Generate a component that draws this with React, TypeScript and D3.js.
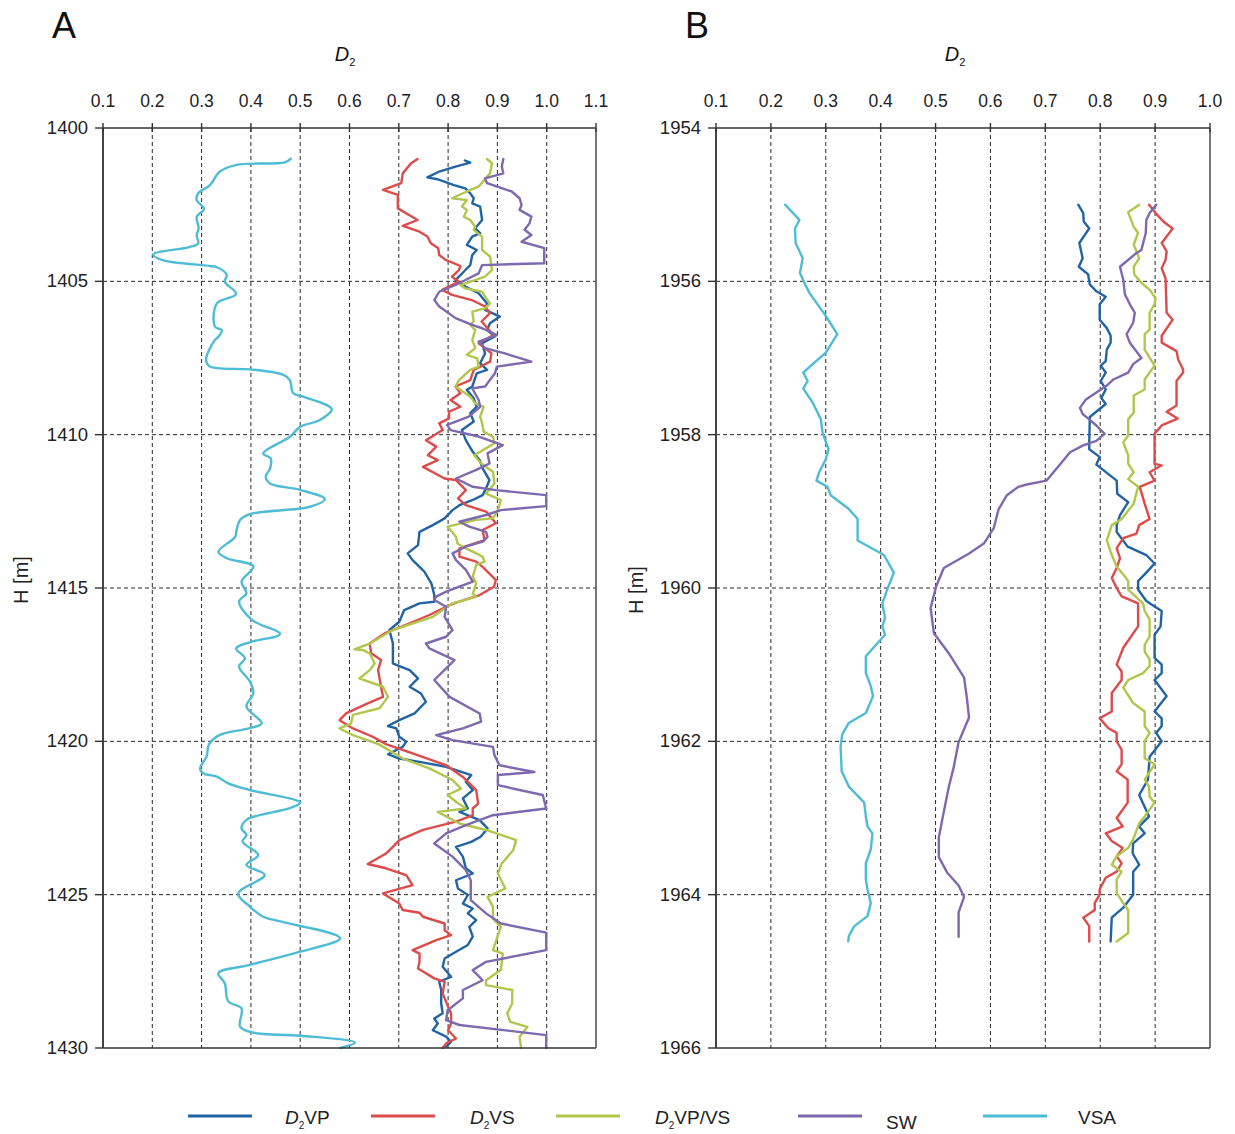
import React from "react";
import * as d3 from "d3";

type Pt = [number, number]; // [depth H (m), D2]

// ---------- Panel A: 1400–1430 m ----------
const aD2VP: Pt[] = [
  [1401.06,0.834],[1401.13,0.845],[1401.26,0.815],[1401.42,0.782],[1401.61,0.758],[1401.67,0.778],[1401.86,0.812],[1401.97,0.835],
  [1402.13,0.845],[1402.29,0.852],[1402.46,0.849],[1402.56,0.865],[1403.0,0.869],[1403.27,0.855],[1403.43,0.865],[1403.54,0.849],
  [1403.81,0.838],[1403.98,0.858],[1404.14,0.849],[1404.47,0.845],[1404.63,0.835],[1404.85,0.822],[1404.96,0.815],[1405.17,0.835],
  [1405.39,0.862],[1405.72,0.879],[1405.93,0.875],[1406.15,0.905],[1406.37,0.885],[1406.59,0.879],[1406.8,0.895],[1407.02,0.869],
  [1407.35,0.875],[1407.67,0.865],[1407.89,0.879],[1408.0,0.858],[1408.43,0.849],[1408.54,0.838],[1408.81,0.852],[1409.09,0.858],
  [1409.3,0.845],[1409.57,0.852],[1409.85,0.828],[1410.18,0.836],[1410.56,0.85],[1410.83,0.864],[1411.1,0.87],[1411.48,0.884],
  [1411.75,0.877],[1411.97,0.87],[1412.13,0.85],[1412.3,0.823],[1412.46,0.809],[1412.73,0.793],[1412.95,0.769],[1413.17,0.742],
  [1413.6,0.739],[1413.87,0.718],[1414.09,0.728],[1414.31,0.742],[1414.47,0.752],[1414.85,0.766],[1415.23,0.772],[1415.45,0.772],
  [1415.5,0.742],[1415.72,0.711],[1416.1,0.701],[1416.37,0.681],[1416.81,0.688],[1417.46,0.688],[1417.57,0.705],[1417.68,0.722],
  [1417.95,0.739],[1418.22,0.722],[1418.44,0.745],[1418.71,0.755],[1419.09,0.732],[1419.31,0.701],[1419.5,0.678],[1419.58,0.695],
  [1419.85,0.701],[1420.01,0.715],[1420.18,0.708],[1420.42,0.678],[1420.56,0.701],[1420.67,0.742],[1420.83,0.796],[1421.1,0.847],
  [1421.32,0.836],[1421.59,0.85],[1421.86,0.83],[1422.19,0.84],[1422.3,0.823],[1422.57,0.864],[1422.84,0.88],[1423.11,0.866],
  [1423.28,0.847],[1423.44,0.816],[1423.76,0.83],[1424.14,0.836],[1424.31,0.85],[1424.53,0.816],[1424.8,0.82],[1425.01,0.84],
  [1425.29,0.83],[1425.45,0.85],[1425.61,0.84],[1425.83,0.857],[1426.05,0.843],[1426.37,0.85],[1426.64,0.84],[1426.86,0.816],
  [1427.08,0.793],[1427.35,0.789],[1427.68,0.806],[1427.84,0.782],[1428.11,0.786],[1428.55,0.786],[1428.87,0.789],[1429.04,0.772],
  [1429.2,0.779],[1429.42,0.769],[1429.63,0.796],[1429.8,0.806],[1429.96,0.796],
];

const aD2VS: Pt[] = [
  [1401.01,0.738],[1401.15,0.725],[1401.48,0.708],[1401.8,0.705],[1402.02,0.668],[1402.18,0.698],[1402.62,0.698],[1403.0,0.738],
  [1403.19,0.708],[1403.38,0.742],[1403.54,0.758],[1403.76,0.765],[1403.92,0.78],[1404.14,0.782],[1404.3,0.795],[1404.5,0.825],
  [1404.63,0.822],[1404.85,0.808],[1405.01,0.822],[1405.28,0.788],[1405.44,0.808],[1405.61,0.848],[1405.82,0.875],[1406.04,0.885],
  [1406.31,0.868],[1406.75,0.892],[1407.02,0.862],[1407.35,0.888],[1407.62,0.885],[1407.89,0.852],[1408.22,0.845],[1408.43,0.815],
  [1408.65,0.825],[1408.87,0.805],[1409.09,0.825],[1409.25,0.802],[1409.47,0.802],[1409.63,0.782],[1409.85,0.789],[1410.18,0.755],
  [1410.39,0.776],[1410.67,0.759],[1410.83,0.779],[1411.05,0.749],[1411.43,0.793],[1411.48,0.816],[1411.81,0.836],[1412.08,0.82],
  [1412.3,0.836],[1412.51,0.877],[1412.89,0.897],[1413.11,0.87],[1413.44,0.874],[1413.6,0.843],[1413.71,0.823],[1413.98,0.823],
  [1414.14,0.857],[1414.31,0.87],[1414.74,0.897],[1414.96,0.893],[1415.23,0.864],[1415.48,0.816],[1415.61,0.796],[1415.88,0.762],
  [1416.15,0.722],[1416.48,0.671],[1416.81,0.641],[1417.13,0.644],[1417.35,0.664],[1417.68,0.658],[1418.22,0.664],[1418.55,0.668],
  [1418.76,0.637],[1419.09,0.593],[1419.31,0.58],[1419.58,0.607],[1419.85,0.647],[1420.1,0.675],[1420.39,0.728],[1420.78,0.796],
  [1421.16,0.83],[1421.59,0.857],[1422.03,0.861],[1422.19,0.85],[1422.41,0.85],[1422.62,0.816],[1422.89,0.749],[1423.22,0.701],
  [1423.44,0.688],[1423.66,0.674],[1424.0,0.637],[1424.14,0.674],[1424.36,0.715],[1424.69,0.728],[1424.96,0.668],[1425.29,0.701],
  [1425.5,0.708],[1425.59,0.742],[1425.72,0.749],[1425.94,0.793],[1426.16,0.793],[1426.32,0.806],[1426.48,0.776],[1426.81,0.728],
  [1426.92,0.742],[1427.19,0.742],[1427.41,0.739],[1427.73,0.772],[1427.84,0.793],[1428.22,0.789],[1428.66,0.8],[1428.87,0.806],
  [1429.2,0.806],[1429.42,0.8],[1429.69,0.816],[1429.85,0.796],[1430.0,0.789],
];

const aD2VPVS: Pt[] = [
  [1401.01,0.879],[1401.15,0.889],[1401.48,0.885],[1401.91,0.862],[1402.07,0.838],[1402.29,0.808],[1402.35,0.838],[1402.56,0.828],
  [1402.67,0.838],[1402.89,0.832],[1403.0,0.845],[1403.22,0.855],[1403.32,0.852],[1403.54,0.869],[1403.98,0.869],[1404.19,0.885],
  [1404.63,0.889],[1404.85,0.875],[1405.12,0.825],[1405.23,0.835],[1405.34,0.869],[1405.5,0.875],[1405.72,0.885],[1405.88,0.875],
  [1405.99,0.849],[1406.31,0.852],[1406.42,0.845],[1406.59,0.855],[1406.91,0.849],[1407.18,0.855],[1407.4,0.838],[1407.51,0.859],
  [1407.78,0.862],[1407.89,0.845],[1408.22,0.822],[1408.43,0.815],[1408.76,0.845],[1408.98,0.855],[1409.09,0.872],[1409.41,0.865],
  [1409.63,0.869],[1409.9,0.872],[1410.07,0.891],[1410.28,0.894],[1410.67,0.853],[1410.94,0.867],[1411.21,0.891],[1411.59,0.894],
  [1411.92,0.877],[1412.13,0.907],[1412.46,0.901],[1412.73,0.891],[1412.78,0.857],[1413.0,0.799],[1413.33,0.816],[1413.55,0.819],
  [1413.71,0.836],[1413.87,0.857],[1413.98,0.87],[1414.14,0.874],[1414.25,0.857],[1414.63,0.85],[1414.85,0.857],[1415.18,0.85],
  [1415.28,0.857],[1415.5,0.809],[1415.94,0.769],[1416.37,0.688],[1416.81,0.641],[1417.0,0.61],[1417.02,0.627],[1417.13,0.641],
  [1417.46,0.651],[1417.68,0.641],[1417.95,0.62],[1418.22,0.668],[1418.55,0.678],[1418.92,0.661],[1419.14,0.607],[1419.42,0.603],
  [1419.58,0.58],[1419.8,0.607],[1420.1,0.66],[1420.56,0.708],[1420.88,0.762],[1421.26,0.809],[1421.54,0.826],[1421.75,0.799],
  [1421.97,0.816],[1422.19,0.836],[1422.3,0.779],[1422.68,0.823],[1422.89,0.877],[1423.22,0.938],[1423.55,0.932],[1423.98,0.909],
  [1424.31,0.901],[1424.8,0.916],[1425.07,0.88],[1425.39,0.891],[1425.78,0.891],[1426.05,0.907],[1426.81,0.891],[1426.92,0.911],
  [1427.46,0.907],[1427.79,0.877],[1427.95,0.877],[1428.11,0.93],[1428.55,0.93],[1428.87,0.92],[1429.15,0.926],[1429.31,0.961],
  [1429.63,0.945],[1430.0,0.948],
];

const aSW: Pt[] = [
  [1401.01,0.912],[1401.26,0.909],[1401.48,0.912],[1401.64,0.875],[1401.8,0.879],[1402.07,0.929],[1402.29,0.945],[1402.51,0.949],
  [1402.67,0.945],[1402.89,0.969],[1403.11,0.965],[1403.32,0.955],[1403.49,0.969],[1403.71,0.949],[1403.92,0.995],[1404.41,0.995],
  [1404.47,0.869],[1404.74,0.862],[1405.12,0.815],[1405.34,0.782],[1405.61,0.772],[1405.82,0.782],[1406.2,0.815],[1406.42,0.849],
  [1406.53,0.869],[1406.75,0.899],[1406.97,0.862],[1407.18,0.875],[1407.35,0.915],[1407.62,0.969],[1407.78,0.899],[1408.0,0.895],
  [1408.43,0.875],[1408.49,0.849],[1408.87,0.862],[1409.09,0.865],[1409.41,0.842],[1409.68,0.798],[1409.85,0.805],[1410.06,0.862],
  [1410.34,0.911],[1410.61,0.88],[1410.94,0.884],[1411.15,0.857],[1411.43,0.816],[1411.7,0.85],[1411.81,0.897],[1411.97,0.999],
  [1412.33,0.999],[1412.46,0.907],[1412.62,0.877],[1412.84,0.823],[1413.0,0.843],[1413.17,0.877],[1413.33,0.88],[1413.49,0.87],
  [1413.65,0.836],[1413.87,0.809],[1414.09,0.816],[1414.41,0.836],[1414.79,0.85],[1415.12,0.796],[1415.28,0.776],[1415.39,0.772],
  [1415.61,0.796],[1415.94,0.793],[1416.37,0.809],[1416.59,0.796],[1416.81,0.755],[1416.97,0.762],[1417.35,0.813],[1418.0,0.772],
  [1418.55,0.803],[1419.09,0.864],[1419.36,0.867],[1419.58,0.83],[1419.8,0.776],[1419.96,0.809],[1420.18,0.891],[1420.45,0.894],
  [1420.78,0.904],[1421.0,0.975],[1421.1,0.901],[1421.43,0.901],[1421.75,0.992],[1422.19,0.999],[1422.41,0.891],[1422.73,0.836],
  [1423.0,0.796],[1423.33,0.772],[1423.76,0.809],[1424.2,0.836],[1424.53,0.846],[1425.18,0.846],[1425.61,0.877],[1425.94,0.907],
  [1426.24,0.999],[1426.81,0.999],[1427.19,0.877],[1427.46,0.85],[1427.79,0.87],[1428.11,0.83],[1428.38,0.83],[1428.77,0.799],
  [1429.09,0.796],[1429.25,0.823],[1429.58,0.999],[1430.0,0.999],
];

const aVSA: Pt[] = [
  [1401.0,0.481],[1401.12,0.469],[1401.2,0.371],[1401.42,0.337],[1401.86,0.317],[1402.13,0.293],[1402.35,0.29],[1402.64,0.305],
  [1402.89,0.29],[1403.27,0.294],[1403.49,0.29],[1403.76,0.293],[1403.89,0.273],[1404.12,0.202],[1404.3,0.219],[1404.5,0.317],
  [1404.54,0.331],[1404.79,0.351],[1405.01,0.347],[1405.41,0.37],[1405.72,0.331],[1406.48,0.327],[1406.59,0.341],[1406.81,0.334],
  [1406.91,0.327],[1407.56,0.309],[1407.78,0.317],[1407.87,0.398],[1408.05,0.466],[1408.22,0.479],[1408.65,0.486],[1408.76,0.506],
  [1409.17,0.564],[1409.52,0.54],[1409.74,0.5],[1410.07,0.479],[1410.61,0.425],[1410.77,0.44],[1411.1,0.439],[1411.37,0.43],
  [1411.59,0.439],[1411.8,0.5],[1412.1,0.55],[1412.35,0.52],[1412.59,0.398],[1412.78,0.378],[1413.11,0.371],[1413.33,0.368],
  [1413.82,0.334],[1414.03,0.351],[1414.3,0.405],[1414.79,0.381],[1415.17,0.391],[1415.44,0.376],[1416.04,0.402],[1416.5,0.459],
  [1416.75,0.402],[1416.97,0.37],[1417.29,0.388],[1417.56,0.376],[1418.05,0.398],[1418.43,0.405],[1418.87,0.391],[1419.41,0.422],
  [1419.57,0.398],[1419.79,0.337],[1420.1,0.315],[1420.5,0.31],[1420.88,0.297],[1421.04,0.303],[1421.15,0.331],[1421.37,0.354],
  [1421.59,0.398],[1422.0,0.5],[1422.18,0.479],[1422.56,0.391],[1422.84,0.381],[1423.05,0.391],[1423.27,0.383],[1423.71,0.415],
  [1424.03,0.391],[1424.36,0.428],[1424.96,0.374],[1425.39,0.398],[1425.72,0.425],[1425.88,0.462],[1426.42,0.581],[1426.86,0.5],
  [1427.29,0.398],[1427.56,0.334],[1427.89,0.347],[1428.48,0.354],[1428.71,0.381],[1429.3,0.378],[1429.5,0.405],[1429.6,0.5],
  [1429.82,0.611],[1430.0,0.581],
];

// ---------- Panel B: 1954–1966 m ----------
const bD2VP: Pt[] = [
  [1955.0,0.76],[1955.11,0.769],[1955.22,0.77],[1955.31,0.78],[1955.5,0.762],[1955.7,0.768],[1955.81,0.761],[1955.91,0.778],
  [1956.04,0.781],[1956.13,0.793],[1956.2,0.81],[1956.3,0.799],[1956.5,0.799],[1956.61,0.812],[1956.71,0.819],[1956.8,0.819],
  [1956.89,0.812],[1957.04,0.81],[1957.1,0.801],[1957.19,0.81],[1957.3,0.801],[1957.41,0.81],[1957.52,0.802],[1957.6,0.81],
  [1957.77,0.781],[1958.1,0.78],[1958.19,0.78],[1958.29,0.799],[1958.39,0.793],[1958.6,0.83],[1958.77,0.831],[1958.88,0.851],
  [1959.05,0.836],[1959.18,0.83],[1959.27,0.83],[1959.46,0.85],[1959.57,0.884],[1959.68,0.899],[1959.8,0.884],[1959.91,0.869],
  [1960.02,0.869],[1960.17,0.884],[1960.24,0.899],[1960.3,0.912],[1960.5,0.91],[1960.61,0.899],[1960.91,0.899],[1961.0,0.912],
  [1961.11,0.912],[1961.2,0.899],[1961.41,0.921],[1961.61,0.899],[1961.7,0.912],[1961.8,0.912],[1961.89,0.902],[1962.0,0.912],
  [1962.2,0.89],[1962.5,0.887],[1962.7,0.871],[1962.98,0.889],[1963.11,0.871],[1963.2,0.881],[1963.33,0.86],[1963.46,0.859],
  [1963.61,0.871],[1963.7,0.86],[1964.0,0.86],[1964.17,0.842],[1964.3,0.821],[1964.61,0.819],
];

const bD2VS: Pt[] = [
  [1955.0,0.889],[1955.11,0.901],[1955.22,0.915],[1955.31,0.932],[1955.5,0.912],[1955.61,0.921],[1955.72,0.919],[1955.83,0.912],
  [1955.96,0.919],[1956.41,0.921],[1956.5,0.932],[1956.71,0.912],[1956.8,0.912],[1956.91,0.939],[1957.02,0.942],[1957.15,0.951],
  [1957.19,0.951],[1957.3,0.939],[1957.62,0.939],[1957.7,0.921],[1957.79,0.941],[1957.88,0.912],[1957.99,0.899],[1958.38,0.899],
  [1958.4,0.912],[1958.49,0.89],[1958.6,0.899],[1958.68,0.872],[1958.9,0.881],[1959.1,0.89],[1959.18,0.871],[1959.29,0.866],
  [1959.35,0.842],[1959.48,0.83],[1959.61,0.836],[1959.74,0.83],[1959.87,0.821],[1960.0,0.83],[1960.11,0.839],[1960.2,0.869],
  [1960.5,0.869],[1960.78,0.842],[1961.0,0.83],[1961.09,0.839],[1961.2,0.839],[1961.37,0.821],[1961.61,0.821],[1961.7,0.799],
  [1961.83,0.815],[1961.89,0.83],[1962.0,0.83],[1962.11,0.839],[1962.3,0.839],[1962.39,0.83],[1962.5,0.85],[1962.8,0.85],
  [1963.0,0.83],[1963.11,0.841],[1963.2,0.81],[1963.3,0.821],[1963.39,0.841],[1963.5,0.83],[1963.59,0.839],[1963.7,0.83],
  [1963.78,0.81],[1963.93,0.799],[1964.0,0.799],[1964.11,0.79],[1964.2,0.79],[1964.3,0.769],[1964.41,0.78],[1964.61,0.78],
];

const bD2VPVS: Pt[] = [
  [1955.0,0.871],[1955.1,0.851],[1955.29,0.861],[1955.37,0.869],[1955.52,0.861],[1955.7,0.871],[1955.81,0.861],[1955.91,0.862],
  [1956.02,0.875],[1956.11,0.89],[1956.22,0.901],[1956.3,0.899],[1956.41,0.89],[1956.63,0.89],[1956.69,0.881],[1956.89,0.881],
  [1957.1,0.899],[1957.28,0.881],[1957.41,0.881],[1957.49,0.861],[1957.71,0.861],[1957.8,0.851],[1958.01,0.851],[1958.1,0.842],
  [1958.27,0.851],[1958.38,0.851],[1958.49,0.861],[1958.58,0.851],[1958.68,0.869],[1958.9,0.861],[1959.1,0.839],[1959.18,0.821],
  [1959.38,0.812],[1959.57,0.821],[1959.72,0.83],[1959.85,0.845],[1959.91,0.851],[1960.02,0.851],[1960.2,0.878],[1960.3,0.881],
  [1960.41,0.89],[1960.63,0.89],[1960.74,0.881],[1960.83,0.881],[1960.93,0.89],[1961.02,0.89],[1961.11,0.878],[1961.2,0.851],
  [1961.3,0.842],[1961.5,0.86],[1961.61,0.881],[1961.8,0.881],[1961.89,0.89],[1962.0,0.881],[1962.22,0.881],[1962.3,0.899],
  [1962.5,0.881],[1962.59,0.889],[1962.72,0.89],[1962.8,0.899],[1962.98,0.881],[1963.07,0.871],[1963.28,0.86],[1963.39,0.851],
  [1963.5,0.83],[1963.61,0.821],[1963.7,0.839],[1963.8,0.83],[1963.98,0.83],[1964.11,0.842],[1964.2,0.851],[1964.5,0.851],
  [1964.61,0.83],
];

const bSW: Pt[] = [
  [1955.0,0.902],[1955.11,0.89],[1955.2,0.884],[1955.37,0.883],[1955.59,0.875],[1955.63,0.866],[1955.81,0.836],[1955.98,0.842],
  [1956.17,0.845],[1956.3,0.854],[1956.41,0.863],[1956.54,0.86],[1956.69,0.848],[1956.8,0.854],[1957.0,0.875],[1957.08,0.86],
  [1957.19,0.851],[1957.28,0.824],[1957.36,0.812],[1957.45,0.793],[1957.54,0.774],[1957.65,0.763],[1957.73,0.768],[1957.8,0.78],
  [1957.88,0.793],[1957.99,0.808],[1958.08,0.793],[1958.14,0.769],[1958.23,0.745],[1958.36,0.73],[1958.6,0.702],[1958.65,0.666],
  [1958.68,0.651],[1958.79,0.63],[1958.97,0.615],[1959.22,0.606],[1959.42,0.588],[1959.55,0.561],[1959.74,0.515],[1959.98,0.501],
  [1960.26,0.491],[1960.59,0.497],[1960.85,0.524],[1961.17,0.552],[1961.43,0.557],[1961.69,0.561],[1962.01,0.542],[1962.34,0.533],
  [1962.6,0.524],[1962.92,0.515],[1963.25,0.506],[1963.51,0.506],[1963.71,0.521],[1963.88,0.542],[1964.03,0.552],[1964.23,0.542],
  [1964.55,0.542],
];

const bVSA: Pt[] = [
  [1955.0,0.226],[1955.2,0.252],[1955.31,0.244],[1955.5,0.245],[1955.7,0.258],[1955.89,0.253],[1956.02,0.261],[1956.15,0.27],
  [1956.45,0.3],[1956.69,0.321],[1956.93,0.3],[1957.1,0.273],[1957.19,0.259],[1957.3,0.267],[1957.4,0.259],[1957.58,0.276],
  [1957.8,0.291],[1957.97,0.294],[1958.19,0.305],[1958.32,0.3],[1958.49,0.288],[1958.6,0.283],[1958.68,0.303],[1958.79,0.309],
  [1958.97,0.342],[1959.1,0.358],[1959.38,0.358],[1959.57,0.406],[1959.8,0.424],[1960.02,0.412],[1960.2,0.403],[1960.39,0.408],
  [1960.5,0.403],[1960.61,0.408],[1960.72,0.394],[1960.89,0.373],[1961.11,0.373],[1961.28,0.382],[1961.41,0.386],[1961.63,0.373],
  [1961.76,0.342],[1961.91,0.33],[1962.07,0.327],[1962.39,0.329],[1962.59,0.342],[1962.8,0.37],[1962.98,0.373],[1963.11,0.376],
  [1963.2,0.385],[1963.41,0.382],[1963.59,0.373],[1963.8,0.373],[1963.93,0.376],[1964.11,0.382],[1964.28,0.376],[1964.41,0.352],
  [1964.54,0.342],[1964.61,0.341],
];

// ---------- Axes & legend ----------
const aDepthTicks = [1400, 1405, 1410, 1415, 1420, 1425, 1430];
const bDepthTicks = [1954, 1956, 1958, 1960, 1962, 1964, 1966];
const aD2Ticks = [0.1, 0.2, 0.3, 0.4, 0.5, 0.6, 0.7, 0.8, 0.9, 1.0, 1.1];
const bD2Ticks = [0.1, 0.2, 0.3, 0.4, 0.5, 0.6, 0.7, 0.8, 0.9, 1.0];

const seriesNames = ["D2VP", "D2VS", "D2VP/VS", "SW", "VSA"];
const seriesColors = ["#2264a3", "#dd4b4b", "#b3c64c", "#7d69ae", "#4dbcd4"];

const FONT = "'Liberation Sans', Arial, Helvetica, sans-serif";

interface PanelProps {
  letter: string;
  letterX: number;
  left: number;
  right: number;
  top: number;
  bottom: number;
  xDomain: [number, number];
  xTicks: number[];
  yDomain: [number, number];
  yTicks: number[];
  series: Pt[][];
  titleX: number;
  yLabelX: number;
  yLabelY: number;
  smoothVSA?: boolean;
}

function Panel(p: PanelProps) {
  const x = d3.scaleLinear().domain(p.xDomain).range([p.left, p.right]);
  const y = d3.scaleLinear().domain(p.yDomain).range([p.top, p.bottom]);

  const makeLine = (smooth: boolean) =>
    d3
      .line<Pt>()
      .x((d) => x(d[1]))
      .y((d) => y(d[0]))
      .curve(smooth ? d3.curveCatmullRom.alpha(0.5) : d3.curveLinear);

  const innerX = p.xTicks.filter((t) => t > p.xDomain[0] + 1e-9 && t < p.xDomain[1] - 1e-9);
  const innerY = p.yTicks.filter((t) => t > p.yDomain[0] && t < p.yDomain[1]);

  return (
    <g>
      <text x={p.letterX} y={p.top - 90} fontSize={36} fontFamily={FONT} fill="#111">
        {p.letter}
      </text>
      <text x={p.titleX} y={p.top - 67} fontSize={20} fontFamily={FONT} fill="#111" textAnchor="middle">
        <tspan fontStyle="italic">D</tspan>
        <tspan fontSize={11} dy={5}>2</tspan>
      </text>

      {/* dashed grid */}
      {innerX.map((t) => (
        <line key={"gx" + t} x1={x(t)} x2={x(t)} y1={p.top} y2={p.bottom} stroke="#111" strokeWidth={0.9} strokeDasharray="4,3" />
      ))}
      {innerY.map((t) => (
        <line key={"gy" + t} x1={p.left} x2={p.right} y1={y(t)} y2={y(t)} stroke="#111" strokeWidth={0.9} strokeDasharray="4,3" />
      ))}

      {/* data curves */}
      {p.series.map((s, i) => (
        <path
          key={"s" + i}
          d={makeLine(!!p.smoothVSA && i === 4)(s) || ""}
          fill="none"
          stroke={seriesColors[i]}
          strokeWidth={2.4}
          strokeLinejoin="round"
          strokeLinecap="round"
        />
      ))}

      {/* frame */}
      <line x1={p.left} x2={p.right} y1={p.top} y2={p.top} stroke="#333" strokeWidth={1.6} />
      <line x1={p.left} x2={p.right} y1={p.bottom} y2={p.bottom} stroke="#333" strokeWidth={1.6} />
      <line x1={p.right} x2={p.right} y1={p.top} y2={p.bottom} stroke="#555" strokeWidth={1.6} />
      <line x1={p.left} x2={p.left} y1={p.top} y2={p.bottom} stroke="#444" strokeWidth={2} />

      {/* top axis */}
      {p.xTicks.map((t) => (
        <g key={"tx" + t}>
          <line x1={x(t)} x2={x(t)} y1={p.top - 5} y2={p.top + 4} stroke="#333" strokeWidth={1.4} />
          <text x={x(t)} y={p.top - 21} fontSize={17.5} fontFamily={FONT} fill="#222" textAnchor="middle">
            {d3.format(".1f")(t)}
          </text>
        </g>
      ))}

      {/* left axis */}
      {p.yTicks.map((t) => (
        <g key={"ty" + t}>
          <line x1={p.left - 8} x2={p.left} y1={y(t)} y2={y(t)} stroke="#333" strokeWidth={1.4} />
          <text x={p.left - 15} y={y(t) + 6} fontSize={18.5} fontFamily={FONT} fill="#222" textAnchor="end">
            {t}
          </text>
        </g>
      ))}

      <text
        transform={`translate(${p.yLabelX},${p.yLabelY}) rotate(-90)`}
        fontSize={20}
        fontFamily={FONT}
        fill="#222"
        textAnchor="middle"
      >
        H [m]
      </text>
    </g>
  );
}

function Legend() {
  const lineStarts = [188, 371, 556, 798, 983];
  const textStarts = [285, 470, 655, 886, 1078];
  const yLine = 1116;
  return (
    <g>
      {seriesNames.map((name, i) => {
        const isD2 = name.startsWith("D2");
        const rest = isD2 ? name.slice(2) : name;
        return (
          <g key={name}>
            <line x1={lineStarts[i]} x2={lineStarts[i] + 64} y1={yLine} y2={yLine} stroke={seriesColors[i]} strokeWidth={3} />
            <text x={textStarts[i]} y={name === "SW" ? 1129 : 1124} fontSize={19} fontFamily={FONT} fill="#222">
              {isD2 ? (
                <>
                  <tspan fontStyle="italic">D</tspan>
                  <tspan fontSize={10} dy={5}>2</tspan>
                  <tspan dy={-5}>{rest}</tspan>
                </>
              ) : (
                rest
              )}
            </text>
          </g>
        );
      })}
    </g>
  );
}

export default function App() {
  return (
    <svg
      width={1235}
      height={1134}
      viewBox="0 0 1235 1134"
      style={{ position: "absolute", left: 0, top: 0, display: "block", background: "#fff" }}
    >
      <rect width={1235} height={1134} fill="#fff" />
      <Panel
        letter="A"
        letterX={52}
        left={103}
        right={596}
        top={128}
        bottom={1048}
        xDomain={[0.1, 1.1]}
        xTicks={aD2Ticks}
        yDomain={[1400, 1430]}
        yTicks={aDepthTicks}
        series={[aD2VP, aD2VS, aD2VPVS, aSW, aVSA]}
        titleX={345}
        yLabelX={28}
        yLabelY={580}
        smoothVSA
      />
      <Panel
        letter="B"
        letterX={685}
        left={716}
        right={1210}
        top={128}
        bottom={1048}
        xDomain={[0.1, 1.0]}
        xTicks={bD2Ticks}
        yDomain={[1954, 1966]}
        yTicks={bDepthTicks}
        series={[bD2VP, bD2VS, bD2VPVS, bSW, bVSA]}
        titleX={955}
        yLabelX={643}
        yLabelY={590}
      />
      <Legend />
    </svg>
  );
}
